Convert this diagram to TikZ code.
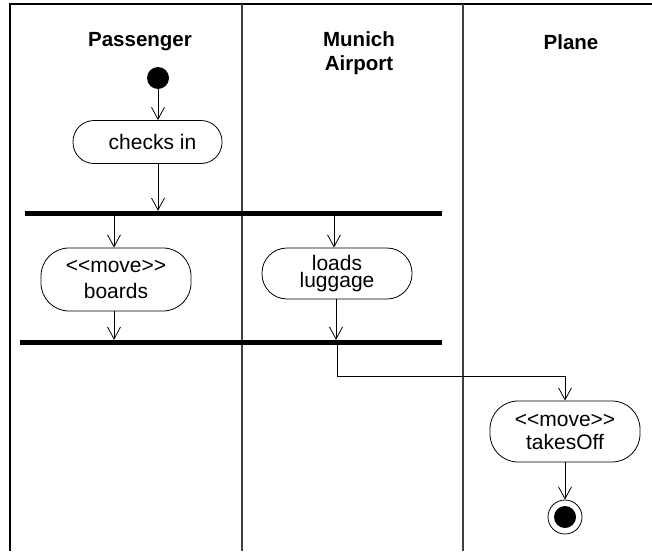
\documentclass[tikz,border=0pt]{standalone}
\usepackage{fontspec}
\setmainfont{Liberation Sans}
\usetikzlibrary{arrows.meta}
\newcommand{\stereo}[1]{<\kern0pt<#1>\kern0pt>}
\begin{document}
\begin{tikzpicture}[x=1pt,y=-1pt,
  lane/.style={line width=1.4pt, black!75},
  frame/.style={line width=1.5pt, black},
  header/.style={font=\bfseries\fontsize{20.5}{24}\selectfont, align=center},
  action/.style={draw, line width=0.8pt, inner sep=0pt,
    minimum width=150pt, align=center},
  bar/.style={fill=black, inner sep=0pt, minimum height=5pt},
  flow/.style={line width=0.8pt, -{Straight Barb[length=12pt,width=13pt,line width=0.8pt]}},
  plain/.style={line width=0.8pt}]
\useasboundingbox (0,0) rectangle (652,551);

% swimlane frame and dividers
\draw[frame] (10,551) -- (10,4) -- (652,4);
\draw[lane] (242,4) -- (242,551);
\draw[lane] (463,4) -- (463,551);

% lane headers
\node[header] (hp) at (140,42) {Passenger};
\node[header] (hm) at (359,53) {\fontsize{20.5}{25}\selectfont Munich\\Airport};
\node[header] (hl) at (571,42) {Plane};

% nodes
\node[circle, fill=black, minimum size=22pt, inner sep=0pt] (start) at (158,78) {};
\node[action, rounded corners=21pt, minimum width=149pt, minimum height=43pt, font=\fontsize{21}{24}\selectfont]
  (checks) at (147.5,142) {\hspace*{10pt}checks in};
\node[bar, minimum width=417pt] (fork) at (233.5,213.5) {};
\node[action, rounded corners=28pt, minimum height=63pt, font=\fontsize{21}{26}\selectfont]
  (boards) at (116,279.5) {\stereo{move}\\boards};
\node[action, rounded corners=25pt, minimum height=51pt, font=\fontsize{21}{17.5}\selectfont]
  (loads) at (337,273.5) {loads\\luggage};
\node[bar, minimum width=422pt] (join) at (231,342.5) {};
\node[action, rounded corners=28pt, minimum height=61pt, font=\fontsize{21}{23}\selectfont]
  (takes) at (565,431.5) {\stereo{move}\\takesOff};
\node[circle, draw, line width=0.8pt, minimum size=34pt, inner sep=0pt] (final) at (565,517) {};
\node[circle, fill=black, minimum size=22pt, inner sep=0pt] (finaldot) at (final.center) {};

% control flow
\draw[flow] (start) -- (start |- checks.north);
\draw[flow] (checks.south -| start) -- (start |- fork.north);
\draw[flow] ([xshift=-2pt]boards.north |- fork.south) -- ([xshift=-2pt]boards.north);
\draw[flow] ([xshift=-3pt]loads.north |- fork.south) -- ([xshift=-3pt]loads.north);
\draw[flow] ([xshift=-2pt]boards.south) -- ([xshift=-2pt]boards.south |- join.north);
\draw[flow] ([xshift=-1pt]loads.south) -- ([xshift=-1pt]loads.south |- join.north);
\coordinate (bend) at (337,376);
\draw[flow] (bend |- join.south) -- (bend) -| (takes.north);
\draw[flow] (takes.south) -- (final.north);
\end{tikzpicture}
\end{document}
